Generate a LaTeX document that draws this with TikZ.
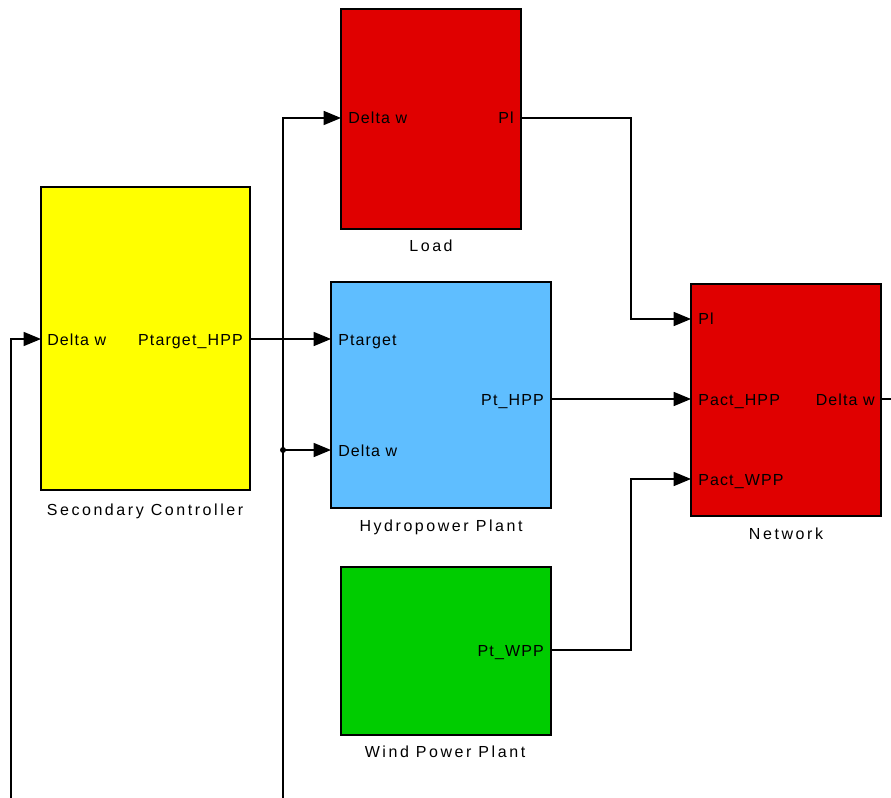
\documentclass[tikz,border=0pt]{standalone}
\usepackage{fontspec}
\setmainfont{Liberation Sans}
\usetikzlibrary{arrows.meta}
\definecolor{blkred}{HTML}{E00000}
\definecolor{blkyellow}{HTML}{FFFF00}
\definecolor{blkblue}{HTML}{5FBEFF}
\definecolor{blkgreen}{HTML}{00CC00}
\begin{document}
\begin{tikzpicture}[x=0.75pt,y=-0.75pt,
  blk/.style={draw=black,line width=1.1pt,inner sep=0pt,outer sep=0pt,anchor=north west},
  port/.style={font=\fontsize{12pt}{14pt}\selectfont\addfontfeature{LetterSpace=7},inner sep=0pt},
  lbl/.style={font=\fontsize{12pt}{14pt}\selectfont\addfontfeature{LetterSpace=16},inner sep=0pt,anchor=base},
  wire/.style={line width=1.1pt,draw=black},
  arr/.style={wire,-{Triangle[length=13pt,width=10.5pt]}}]
\useasboundingbox (0,0) rectangle (891,798);

% blocks
\node[blk,fill=blkred,minimum width=135pt,minimum height=165pt] (load) at (341,9) {};
\node[blk,fill=blkyellow,minimum width=156.75pt,minimum height=227.25pt] (sc) at (41,187) {};
\node[blk,fill=blkblue,minimum width=165pt,minimum height=169.5pt] (hpp) at (331,282) {};
\node[blk,fill=blkgreen,minimum width=157.5pt,minimum height=126pt] (wpp) at (341,567) {};
\node[blk,fill=blkred,minimum width=142.5pt,minimum height=174pt] (net) at (691,284) {};

% block labels
\node[lbl] (loadlbl) at (431,252) {Load};
\node[lbl] (sclbl) at (145,515) {Secondary Controller};
\node[lbl] (hpplbl) at (441,531) {Hydropower Plant};
\node[lbl] (wpplbl) at (445,757) {Wind Power Plant};
\node[lbl] (netlbl) at (786,539) {Network};

% port texts
\node[port,anchor=base west] (t1) at (348,124) {Delta w};
\node[port,anchor=base east] (t2) at (514,124) {Pl};
\node[port,anchor=base west] (t3) at (47,345) {Delta w};
\node[port,anchor=base east] (t4) at (243,345) {Ptarget\_HPP};
\node[port,anchor=base west] (t5) at (338,345) {Ptarget};
\node[port,anchor=base west] (t6) at (338,456) {Delta w};
\node[port,anchor=base east] (t7) at (544,405) {Pt\_HPP};
\node[port,anchor=base east] (t8) at (544,656) {Pt\_WPP};
\node[port,anchor=base west] (t9) at (698,325) {Pl};
\node[port,anchor=base west] (t10) at (698,405) {Pact\_HPP};
\node[port,anchor=base west] (t11) at (698,485) {Pact\_WPP};
\node[port,anchor=base east] (t12) at (875,405) {Delta w};

% port coordinates
\coordinate (loadin) at (341,118);
\coordinate (loadout) at (521,118);
\coordinate (scin) at (41,339);
\coordinate (scout) at (250,339);
\coordinate (hppin) at (331,339);
\coordinate (hppdw) at (331,450);
\coordinate (hppout) at (551,399);
\coordinate (wppout) at (551,650);
\coordinate (netpl) at (691,319);
\coordinate (nethpp) at (691,399);
\coordinate (netwpp) at (691,479);
\coordinate (netout) at (881,399);
\coordinate (rightedge) at (891,399);
\coordinate (fbA) at (283,798);
\coordinate (fbB) at (11,798);
\coordinate (jn) at (283,450);
\coordinate (bendA) at (631,118);
\coordinate (bendB) at (631,650);

% connectors
\draw[arr] (loadout) -- (bendA) |- (netpl);
\draw[arr] (scout) -- (hppin);
\draw[arr] (hppout) -- (nethpp);
\draw[arr] (wppout) -- (bendB) |- (netwpp);
\draw[arr] (fbA) |- (loadin);
\draw[arr] (jn) -- (hppdw);
\fill[black] (jn) circle (3);
\draw[arr] (fbB) |- (scin);
\draw[wire] (netout) -- (rightedge);
\end{tikzpicture}
\end{document}
